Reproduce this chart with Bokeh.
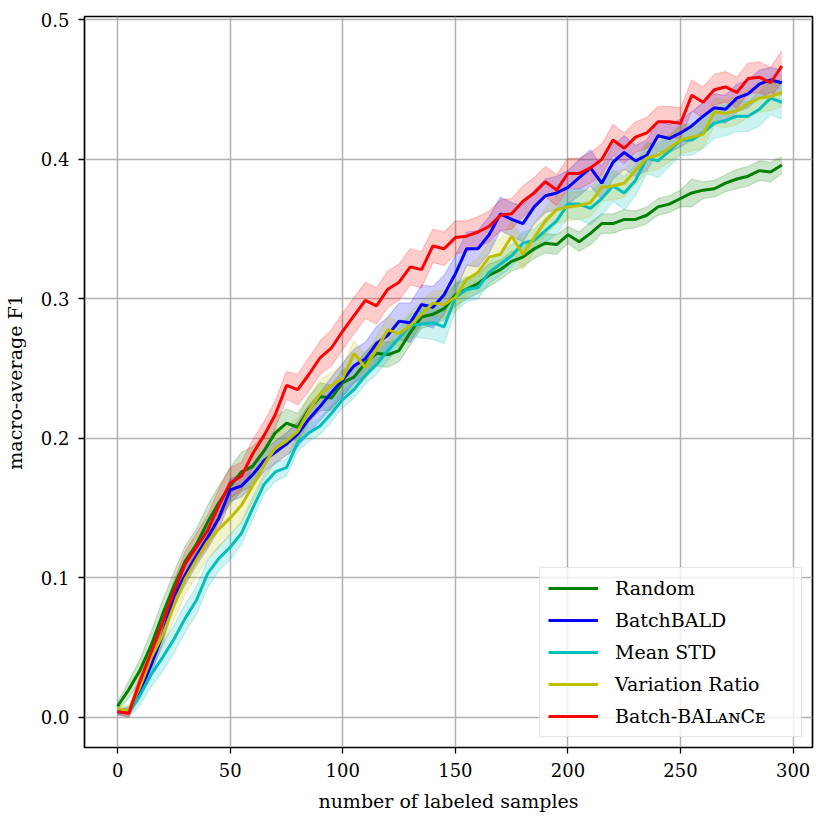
from bokeh.plotting import figure
from bokeh.models import Range1d, FixedTicker, PrintfTickFormatter, Legend, LegendItem
from bokeh.embed import file_html
from bokeh.resources import INLINE

x_samples = list(range(0, 300, 5))

random_f1 = [.008, .020, .034, .052, .074, .094, .112, .124, .140, .154, .166, .176,
             .180, .191, .204, .211, .208, .221, .230, .229, .240, .244, .254, .261,
             .260, .263, .276, .287, .289, .293, .303, .307, .311, .317, .321, .327,
             .330, .336, .340, .339, .346, .341, .347, .354, .354, .357, .357, .360,
             .366, .368, .372, .376, .378, .379, .383, .386, .388, .392, .391, .396]
batchbald_f1 = [.004, .004, .019, .038, .059, .087, .102, .116, .129, .143, .163, .166,
                .174, .184, .190, .196, .203, .214, .223, .233, .242, .252, .257, .268,
                .274, .284, .283, .296, .294, .303, .318, .336, .336, .346, .361, .357,
                .354, .366, .374, .376, .380, .387, .394, .383, .398, .405, .399, .403,
                .417, .415, .419, .424, .431, .437, .436, .444, .447, .454, .457, .455]
meanstd_f1 = [.004, .004, .016, .031, .043, .056, .071, .084, .103, .114, .122, .132,
              .150, .167, .176, .179, .197, .204, .209, .218, .228, .235, .245, .253,
              .263, .272, .281, .282, .283, .280, .301, .307, .308, .319, .325, .331,
              .340, .342, .349, .356, .368, .368, .365, .372, .381, .376, .385, .401,
              .399, .406, .414, .414, .419, .426, .428, .431, .431, .436, .444, .441]
varratio_f1 = [.006, .005, .022, .043, .059, .080, .099, .113, .126, .135, .143, .152,
               .166, .181, .193, .198, .205, .220, .232, .238, .243, .261, .251, .264,
               .278, .275, .281, .289, .297, .296, .301, .314, .319, .330, .332, .345,
               .332, .344, .356, .364, .366, .367, .369, .380, .381, .383, .392, .401,
               .403, .408, .414, .416, .418, .434, .433, .435, .440, .444, .445, .448]
balance_f1 = [.004, .003, .026, .047, .068, .090, .110, .122, .134, .152, .168, .173,
              .189, .202, .217, .238, .235, .246, .258, .265, .277, .288, .299, .295,
              .307, .312, .323, .321, .338, .336, .344, .345, .348, .352, .360, .361,
              .370, .376, .384, .378, .390, .390, .394, .400, .414, .408, .416, .419,
              .427, .427, .426, .446, .441, .450, .452, .448, .458, .459, .455, .467]

random_std = [.003, .006, .008, .010, .010, .010, .011, .011, .012, .012, .013, .014,
              .014, .012, .011, .010, .010, .009, .010, .009, .009, .008, .008, .009,
              .009, .008, .009, .008, .008, .008, .008, .007, .007, .008, .007, .007,
              .007, .007, .007, .007, .006, .007, .008, .007, .007, .007, .006, .006,
              .006, .006, .006, .010, .006, .006, .006, .007, .007, .007, .007, .006]
batchbald_std = [.002, .003, .005, .006, .006, .007, .007, .007, .008, .008, .008, .008,
                 .008, .008, .008, .008, .009, .010, .010, .011, .012, .012, .012, .012,
                 .013, .013, .014, .014, .015, .014, .013, .012, .013, .013, .012, .012,
                 .013, .012, .012, .012, .012, .013, .013, .012, .012, .012, .011, .011,
                 .011, .010, .010, .010, .010, .010, .010, .010, .010, .010, .009, .009]
meanstd_std = [.002, .004, .007, .009, .010, .010, .010, .010, .010, .009, .009, .008,
               .008, .007, .007, .006, .006, .006, .006, .006, .006, .006, .006, .007,
               .007, .007, .008, .010, .012, .012, .010, .009, .008, .008, .008, .008,
               .008, .008, .009, .009, .010, .011, .012, .012, .011, .012, .011, .011,
               .012, .011, .011, .011, .011, .011, .011, .011, .011, .012, .012, .012]
varratio_std = [.002, .004, .007, .008, .009, .010, .011, .012, .012, .013, .012, .012,
                .011, .010, .010, .010, .010, .010, .010, .009, .009, .009, .009, .009,
                .009, .009, .009, .009, .009, .010, .010, .010, .010, .011, .011, .011,
                .011, .010, .010, .010, .010, .010, .010, .010, .010, .010, .010, .010,
                .010, .010, .010, .010, .010, .010, .010, .010, .010, .010, .010, .010]
balance_std = [.002, .003, .005, .006, .007, .008, .009, .010, .011, .012, .011, .010,
               .010, .010, .010, .010, .011, .012, .012, .013, .013, .013, .013, .013,
               .013, .013, .013, .013, .012, .012, .012, .011, .011, .011, .011, .011,
               .011, .011, .011, .011, .011, .011, .011, .011, .011, .011, .011, .011,
               .011, .011, .011, .011, .011, .011, .011, .011, .011, .011, .011, .011]

series_names = ["Random", "BatchBALD", "Mean STD", "Variation Ratio", "Batch-BAL\u1d00\u0274C\u1d07"]
series_colors = ["#008000", "#0000ff", "#00bfbf", "#bfbf00", "#ff0000"]
series_values = [random_f1, batchbald_f1, meanstd_f1, varratio_f1, balance_f1]
series_stds = [random_std, batchbald_std, meanstd_std, varratio_std, balance_std]

x_ticks = [0, 50, 100, 150, 200, 250, 300]
y_ticks = [0.0, 0.1, 0.2, 0.3, 0.4, 0.5]

FONT = "DejaVu Serif"

p = figure(width=822, height=822, output_backend="svg", toolbar_location=None,
           x_range=Range1d(-14.7, 308.6), y_range=Range1d(-0.0216, 0.5025),
           min_border_left=83, min_border_right=10, min_border_top=16, min_border_bottom=75)

p.background_fill_color = "white"
p.border_fill_color = "white"
p.outline_line_color = "black"
p.outline_line_width = 1.7

for ax in (p.xaxis[0], p.yaxis[0]):
    ax.axis_line_color = None
    ax.major_tick_line_color = "black"
    ax.major_tick_line_width = 1.3
    ax.major_tick_out = 6
    ax.major_tick_in = 0
    ax.minor_tick_line_color = None
    ax.major_label_text_font = FONT
    ax.major_label_text_font_size = "18px"
    ax.major_label_text_color = "black"
    ax.axis_label_text_font = FONT
    ax.axis_label_text_font_size = "19px"
    ax.axis_label_text_font_style = "normal"
    ax.axis_label_text_color = "black"

p.xaxis[0].ticker = FixedTicker(ticks=x_ticks)
p.yaxis[0].ticker = FixedTicker(ticks=y_ticks)
p.yaxis[0].formatter = PrintfTickFormatter(format="%.1f")
p.xaxis[0].axis_label = "number of labeled samples"
p.yaxis[0].axis_label = "macro-average F1"
p.xaxis[0].major_label_standoff = 9
p.yaxis[0].major_label_standoff = 9
p.xaxis[0].axis_label_standoff = 10
p.yaxis[0].axis_label_standoff = 12

p.grid.grid_line_color = "#b0b0b0"
p.grid.grid_line_width = 1.5

items = []
for name, color, vals, sd in zip(series_names, series_colors, series_values, series_stds):
    lo = [v - s for v, s in zip(vals, sd)]
    hi = [v + s for v, s in zip(vals, sd)]
    p.varea(x=x_samples, y1=lo, y2=hi, fill_color=color, fill_alpha=0.2)
    p.line(x=x_samples, y=lo, line_color=color, line_alpha=0.2, line_width=1.2)
    p.line(x=x_samples, y=hi, line_color=color, line_alpha=0.2, line_width=1.2)

for name, color, vals in zip(series_names, series_colors, series_values):
    r = p.line(x=x_samples, y=vals, line_color=color, line_width=3)
    items.append(LegendItem(label=name, renderers=[r]))

legend = Legend(items=items, location="bottom_right")
legend.label_text_font = FONT
legend.label_text_font_size = "19px"
legend.label_text_color = "black"
legend.glyph_width = 50
legend.glyph_height = 24
legend.label_height = 24
legend.label_width = 178
legend.label_standoff = 17
legend.spacing = 8
legend.padding = 8
legend.margin = 10
legend.border_line_color = "#cccccc"
legend.border_line_width = 1.5
legend.background_fill_alpha = 0.8
p.add_layout(legend)

open("out.html", "w").write(file_html(p, INLINE))
